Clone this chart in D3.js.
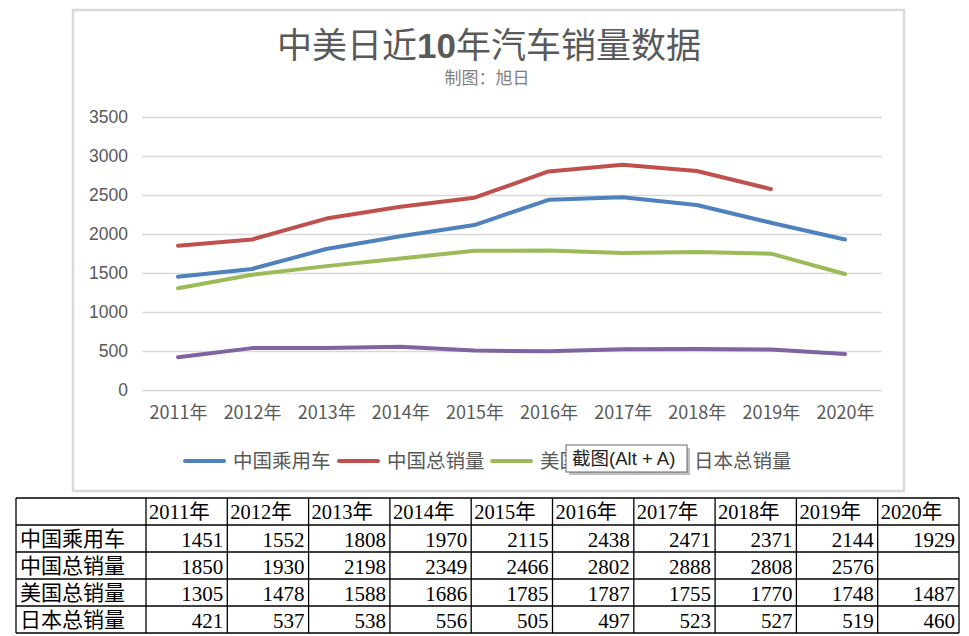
<!DOCTYPE html>
<html><head><meta charset="utf-8">
<script src="https://cdn.jsdelivr.net/npm/d3@7"></script>
<style>body{margin:0;background:#fff}svg{display:block}</style>
</head><body>
<script>
const years = ["2011年","2012年","2013年","2014年","2015年","2016年","2017年","2018年","2019年","2020年"];
const seriesNames = ["中国乘用车","中国总销量","美国总销量","日本总销量"];
const cnPassenger = [1451,1552,1808,1970,2115,2438,2471,2371,2144,1929];
const cnTotal = [1850,1930,2198,2349,2466,2802,2888,2808,2576,null];
const usTotal = [1305,1478,1588,1686,1785,1787,1755,1770,1748,1487];
const jpTotal = [421,537,538,556,505,497,523,527,519,460];
const yTicks = [0,500,1000,1500,2000,2500,3000,3500];
const colors = ["#4f81bd","#c0504d","#9bbb59","#8064a2"];
const seriesValues = [cnPassenger, cnTotal, usTotal, jpTotal];

const W=969,H=636;
const svg=d3.select("body").append("svg").attr("width",W).attr("height",H);
const cjk='"Noto Sans CJK SC","Noto Sans",sans-serif';
const latin='"Liberation Sans",Arial,sans-serif';

// chart frame
svg.append("rect").attr("x",73).attr("y",10).attr("width",831).attr("height",481)
  .attr("fill","#fff").attr("stroke","#d9d9d9").attr("stroke-width",2.5);

// title
const title=svg.append("text").attr("x",489).attr("y",58).attr("text-anchor","middle")
  .attr("font-family",cjk).attr("font-size",35).attr("fill","#595959");
title.append("tspan").text("中美日近");
title.append("tspan").attr("font-weight","bold").attr("font-family",latin).text("10");
title.append("tspan").text("年汽车销量数据");
svg.append("text").attr("x",487).attr("y",84).attr("text-anchor","middle")
  .attr("font-family",cjk).attr("font-size",17).attr("fill","#7f7f7f").text("制图：旭日");

const x=d3.scalePoint().domain(years).range([178,845]);
const y=d3.scaleLinear().domain([0,3500]).range([390,117]);

// gridlines
const grid=svg.append("g").attr("transform","translate(142,0)")
  .call(d3.axisLeft(y).tickValues(yTicks).tickSize(-740).tickFormat(""));
grid.select(".domain").remove();
grid.selectAll("line").attr("stroke","#d9d9d9").attr("stroke-width",1.5);

// y labels
const ya=svg.append("g").attr("transform","translate(128,0)")
  .call(d3.axisLeft(y).tickValues(yTicks).tickSize(0).tickPadding(0).tickFormat(d3.format("d")));
ya.select(".domain").remove();
ya.selectAll("text").attr("font-family",latin).attr("font-size",17.5).attr("fill","#595959");

// x labels
const xa=svg.append("g").attr("transform","translate(0,390)")
  .call(d3.axisBottom(x).tickSize(0).tickPadding(16));
xa.select(".domain").remove();
xa.selectAll("text").attr("font-family",cjk).attr("font-size",18).attr("fill","#595959");

// lines
const line=d3.line().defined(d=>d!=null).x((d,i)=>x(years[i])).y(d=>y(d));
seriesValues.forEach((vals,k)=>{
  svg.append("path").datum(vals).attr("d",line).attr("fill","none")
    .attr("stroke",colors[k]).attr("stroke-width",4).attr("stroke-linejoin","round").attr("stroke-linecap","round");
});

// legend
const legX=[185,339,492,646];
seriesNames.forEach((n,k)=>{
  const g=svg.append("g").attr("transform",`translate(${legX[k]},461)`);
  g.append("line").attr("x1",0).attr("x2",39).attr("stroke",colors[k]).attr("stroke-width",4).attr("stroke-linecap","round");
  g.append("text").attr("x",48).attr("y",7).attr("font-family",cjk).attr("font-size",19.5).attr("fill","#595959").text(n);
});

// tooltip overlay
const tip=svg.append("g").attr("transform","translate(566,445)");
tip.append("rect").attr("x",3).attr("y",3).attr("width",121).attr("height",27).attr("fill","#8a8a8a").attr("opacity",0.55);
tip.append("rect").attr("x",0).attr("y",0).attr("width",121).attr("height",27).attr("fill","#fff").attr("stroke","#666").attr("stroke-width",1);
const tt=tip.append("text").attr("x",6).attr("y",20).attr("font-size",18.5).attr("fill","#222");
tt.append("tspan").attr("font-family",cjk).text("截图");
tt.append("tspan").attr("font-family",latin).text("(Alt + A)");

// data table
const tx0=16, ty0=498, c0=130, cw=81.3, rh=27;
const tbl=svg.append("g");
const rows=[years].concat(seriesValues);
const serif='"Liberation Serif","DejaVu Serif",serif';
rows.forEach((r,ri)=>{
  const yy=ty0+ri*rh;
  if(ri>0){
    tbl.append("text").attr("x",tx0+4).attr("y",yy+21).attr("font-family",cjk).attr("font-size",21).attr("fill","#000").text(seriesNames[ri-1]);
  }
  r.forEach((v,ci)=>{
    const cx=tx0+c0+ci*cw;
    if(v==null) return;
    if(ri===0){
      const t=tbl.append("text").attr("x",cx+3).attr("y",yy+21).attr("font-size",20.5).attr("fill","#000");
      t.append("tspan").attr("font-family",serif).text(String(v).replace("年",""));
      t.append("tspan").attr("font-family",cjk).text("年");
    } else {
      tbl.append("text").attr("x",cx+cw-4).attr("y",yy+22).attr("text-anchor","end").attr("font-family",serif)
        .attr("font-size",21).attr("fill","#000").text(v);
    }
  });
});
for(let ri=0;ri<=5;ri++){
  tbl.append("line").attr("x1",tx0).attr("x2",tx0+c0+10*cw).attr("y1",ty0+ri*rh).attr("y2",ty0+ri*rh).attr("stroke","#000").attr("stroke-width",1.3);
}
for(let ci=0;ci<=11;ci++){
  const xx= ci===0?tx0:tx0+c0+(ci-1)*cw;
  tbl.append("line").attr("x1",xx).attr("x2",xx).attr("y1",ty0).attr("y2",ty0+5*rh).attr("stroke","#000").attr("stroke-width",1.3);
}
</script>
</body></html>
